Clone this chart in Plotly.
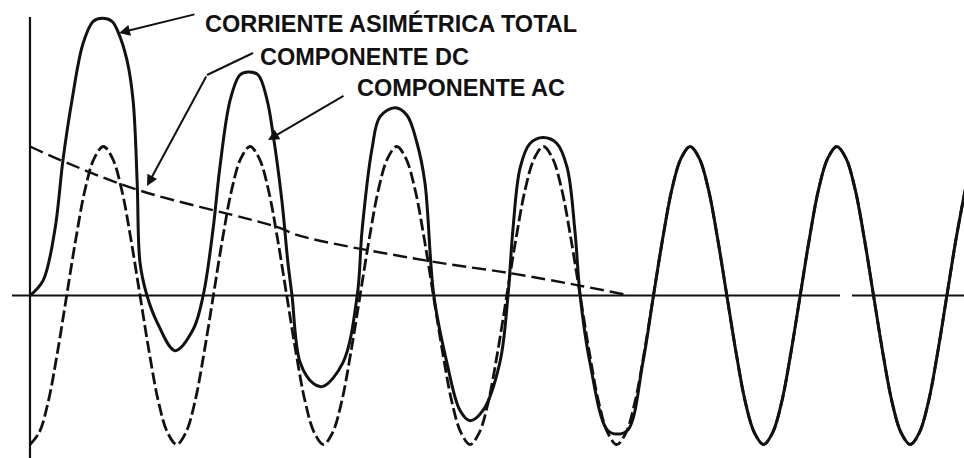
import plotly.graph_objects as go

# ---------------- data ----------------
# electrical angle in degrees, amplitude in per-unit of the AC peak
ac_deg = [0, 22.5, 45, 67.5, 90, 112.5, 135, 157.5, 180, 202.5, 225, 247.5, 270, 292.5, 315, 337.5,
          360, 382.5, 405, 427.5, 450, 472.5, 495, 517.5, 540, 562.5, 585, 607.5, 630, 652.5, 675, 697.5,
          720, 742.5, 765, 787.5, 810, 832.5, 855, 877.5, 900, 922.5, 945, 967.5, 990, 1012.5, 1035, 1057.5,
          1080, 1102.5, 1125, 1147.5, 1170, 1192.5, 1215, 1237.5, 1260, 1282.5, 1305, 1327.5, 1350, 1372.5,
          1395, 1417.5, 1440, 1462.5, 1485, 1507.5, 1530, 1552.5, 1575, 1597.5, 1620, 1642.5, 1665, 1687.5,
          1710, 1732.5, 1755, 1777.5, 1800, 1822.5, 1845, 1867.5, 1890, 1912.5, 1935, 1957.5, 1980, 2002.5,
          2025, 2047.5, 2070, 2092.5, 2115, 2137.5, 2160, 2182.5, 2205, 2227.5, 2250, 2272.5, 2295]
ac_val = [-1.00, -0.92, -0.71, -0.38, 0.00, 0.38, 0.71, 0.92, 1.00, 0.92, 0.71, 0.38, 0.00, -0.38, -0.71, -0.92,
          -1.00, -0.92, -0.71, -0.38, 0.00, 0.38, 0.71, 0.92, 1.00, 0.92, 0.71, 0.38, 0.00, -0.38, -0.71, -0.92,
          -1.00, -0.92, -0.71, -0.38, 0.00, 0.38, 0.71, 0.92, 1.00, 0.92, 0.71, 0.38, 0.00, -0.38, -0.71, -0.92,
          -1.00, -0.92, -0.71, -0.38, 0.00, 0.38, 0.71, 0.92, 1.00, 0.92, 0.71, 0.38, 0.00, -0.38, -0.71, -0.92,
          -1.00, -0.92, -0.71, -0.38, 0.00, 0.38, 0.71, 0.92, 1.00, 0.92, 0.71, 0.38, 0.00, -0.38, -0.71, -0.92,
          -1.00, -0.92, -0.71, -0.38, 0.00, 0.38, 0.71, 0.92, 1.00, 0.92, 0.71, 0.38, 0.00, -0.38, -0.71, -0.92,
          -1.00, -0.92, -0.71, -0.38, 0.00, 0.38, 0.71]

dc_deg = [0, 91, 263, 606, 663, 982, 1178, 1342, 1472]
dc_val = [1.00, 0.89, 0.71, 0.46, 0.40, 0.23, 0.15, 0.07, 0.00]

total_deg = [0, 32, 61, 81, 103, 130, 155, 177, 201, 216, 238, 253, 263, 270, 287, 312,
             356, 400, 425, 449, 466, 491, 515, 535, 560, 582, 596, 618, 633, 643, 663,
             695, 719, 768, 803, 815, 839, 859, 896, 925, 950, 969, 991, 1023, 1055, 1080,
             1112, 1153, 1173, 1185, 1203, 1227, 1259, 1293, 1318, 1337, 1350, 1374, 1416,
             1441, 1468, 1504, 1530, 1552.5, 1575, 1597.5, 1620, 1642.5, 1665, 1687.5,
             1710, 1732.5, 1755, 1777.5, 1800, 1822.5, 1845, 1867.5, 1890, 1912.5, 1935,
             1957.5, 1980, 2002.5, 2025, 2047.5, 2070, 2092.5, 2115, 2137.5, 2160, 2182.5,
             2205, 2227.5, 2250, 2272.5, 2295]
total_val = [0.00, 0.10, 0.44, 0.91, 1.31, 1.69, 1.84, 1.86, 1.84, 1.77, 1.58, 1.31, 0.76,
             0.22, 0.00, -0.18, -0.37, -0.23, 0.00, 0.44, 0.86, 1.31, 1.48, 1.50, 1.48,
             1.31, 1.09, 0.64, 0.22, 0.00, -0.45, -0.59, -0.61, -0.45, 0.00, 0.44, 0.98,
             1.20, 1.26, 1.21, 1.02, 0.76, 0.00, -0.45, -0.77, -0.84, -0.77, -0.45, 0.00,
             0.44, 0.86, 1.02, 1.06, 1.02, 0.86, 0.44, 0.00, -0.45, -0.90, -0.93, -0.90,
             -0.45, 0.00, 0.38, 0.71, 0.92, 1.00, 0.92, 0.71, 0.38,
             0.00, -0.38, -0.71, -0.92, -1.00, -0.92, -0.71, -0.38, 0.00, 0.38, 0.71,
             0.92, 1.00, 0.92, 0.71, 0.38, 0.00, -0.38, -0.71, -0.92, -1.00, -0.92,
             -0.71, -0.38, 0.00, 0.38, 0.71]

labels = ["CORRIENTE ASIMÉTRICA TOTAL", "COMPONENTE DC", "COMPONENTE AC"]

# ---------------- figure ----------------
W, H = 964, 458
INK = "#111111"

fig = go.Figure()
fig.add_trace(go.Scatter(x=ac_deg, y=ac_val, mode="lines", line_shape="spline",
                         line=dict(color=INK, width=2.8, dash="12px,4px"),
                         hoverinfo="skip"))
fig.add_trace(go.Scatter(x=dc_deg, y=dc_val, mode="lines", line_shape="spline",
                         line=dict(color=INK, width=2.4, dash="14px,6px"),
                         hoverinfo="skip"))
fig.add_trace(go.Scatter(x=total_deg, y=total_val, mode="lines", line_shape="spline",
                         line=dict(color=INK, width=3), hoverinfo="skip"))


def px(x):
    return x / W


def py(y):
    return 1 - y / H


shapes = [
    # vertical axis
    dict(type="line", xref="x", yref="paper", x0=0, x1=0, y0=0, y1=py(17),
         line=dict(color=INK, width=2.2), layer="below"),
    # horizontal axis (with small gap as in the drawing)
    dict(type="line", xref="paper", yref="y", x0=px(12), x1=px(840), y0=0, y1=0,
         line=dict(color=INK, width=2.2), layer="below"),
    dict(type="line", xref="paper", yref="y", x0=px(852), x1=1, y0=0, y1=0,
         line=dict(color=INK, width=2.2), layer="below"),
    # first leg of DC leader
    dict(type="line", xref="paper", yref="paper", x0=px(253), y0=py(53),
         x1=px(207), y1=py(75), line=dict(color=INK, width=2)),
]

annotations = []
# leader arrows (tip x,y ; tail x,y in pixels)
for (tx, ty, sx, sy) in [(119, 33, 196, 14), (147, 186, 207, 75), (268, 140, 345, 95)]:
    annotations.append(dict(xref="paper", yref="paper", x=px(tx), y=py(ty),
                            ax=sx - tx, ay=sy - ty, text="", showarrow=True,
                            arrowhead=2, arrowsize=1.1, arrowwidth=2, arrowcolor=INK))
# text labels
for text, lx, ly in zip(labels, [203, 258, 355], [23.5, 57, 88]):
    annotations.append(dict(xref="paper", yref="paper", x=px(lx), y=py(ly),
                            xanchor="left", yanchor="middle", text=text,
                            showarrow=False,
                            font=dict(family="Liberation Sans, Arial", size=23.5,
                                      color=INK, weight="bold")))

fig.update_layout(
    width=W, height=H, margin=dict(l=0, r=0, t=0, b=0),
    paper_bgcolor="white", plot_bgcolor="white", showlegend=False,
    xaxis=dict(range=[-73.6, 2292.0], visible=False, fixedrange=True),
    yaxis=dict(range=[-1.0906, 1.9832], visible=False, fixedrange=True),
    shapes=shapes, annotations=annotations,
)

fig.write_html("out.html", config={"displayModeBar": False})
